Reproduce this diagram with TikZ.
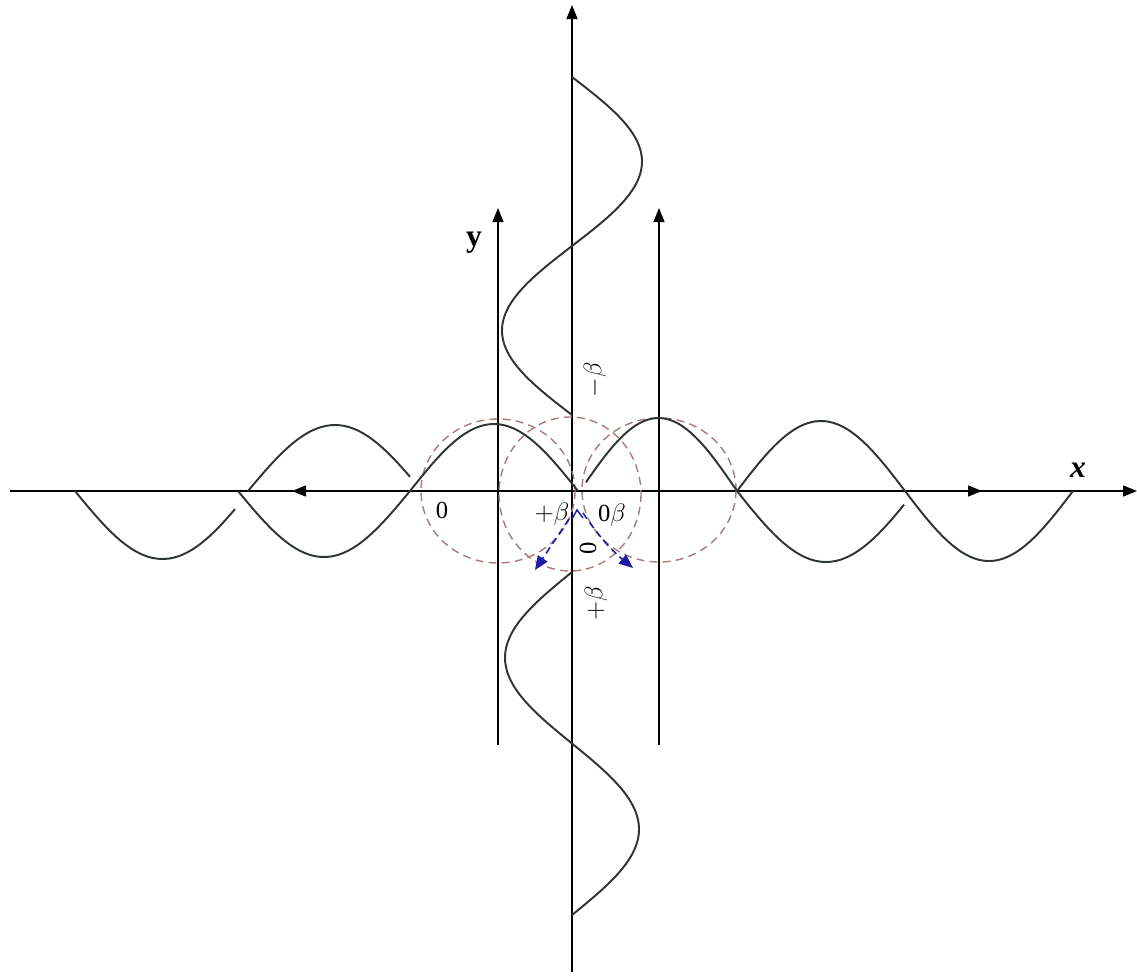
\documentclass[tikz,border=0pt]{standalone}
\usepackage{fontspec}
\setmainfont{Liberation Serif}
\usetikzlibrary{arrows.meta}
\definecolor{wavecol}{HTML}{2E3434}
\definecolor{circcol}{HTML}{A87A7A}
\definecolor{bluecol}{HTML}{1C1CA8}
\begin{document}
\begin{tikzpicture}[x=0.2mm,y=-0.2mm,
  axis/.style={line width=0.8pt,black},
  tip/.style={-{Triangle[length=2.8mm,width=2.2mm]}},
  wave/.style={line width=1.1pt,wavecol,smooth},
  circ/.style={line width=0.8pt,circcol,dash pattern=on 4.5pt off 3pt},
  barrow/.style={line width=0.9pt,bluecol,dash pattern=on 4pt off 2.5pt,-{Triangle[length=2.8mm,width=2.3mm]}},
  lbl/.style={font=\fontsize{14}{16}\selectfont,inner sep=0pt}]
\useasboundingbox (0,0) rectangle (1137,975);
% axes endpoints
\coordinate (xL) at (10,491);
\coordinate (xR) at (1137,491);
\coordinate (yB) at (572,972);
\coordinate (yT) at (572,5);
\coordinate (lB) at (498,745);
\coordinate (lT) at (498,208);
\coordinate (rB) at (659,745);
\coordinate (rT) at (659,208);
\coordinate (aL1) at (320,491);
\coordinate (aL2) at (292,491);
\coordinate (aR1) at (955,491);
\coordinate (aR2) at (982,491);
% axes
\draw[axis,tip] (xL) -- (xR);
\draw[axis,tip] (yB) -- (yT);
\draw[axis,tip] (lB) -- (lT);
\draw[axis,tip] (rB) -- (rT);
\draw[axis,tip] (aL1) -- (aL2);
\draw[axis,tip] (aR1) -- (aR2);
% dashed circles
\draw[circ] (498,491) ellipse [x radius=77,y radius=72];
\draw[circ] (570,494) ellipse [x radius=71,y radius=77];
\draw[circ] (659,490) ellipse [x radius=77,y radius=72];
% horizontal waves
\draw[wave] plot[domain=75:235,samples=40] (\x,{491+68*sin((\x-75)/175*180)});
\draw[wave] plot[domain=248:410,samples=40] (\x,{491-66*sin((\x-248)/174*180)});
\draw[wave] plot[domain=238:410,samples=40] (\x,{491+66*sin((\x-238)/172*180)});
\draw[wave] plot[domain=410:578,samples=40] (\x,{491-67*sin((\x-410)/168*180)});
\draw[wave] plot[domain=586:737,samples=40] (\x,{491-73*sin((\x-580)/157*180)});
\draw[wave] plot[domain=737:1073,samples=70] (\x,{491-70*sin((\x-737)/168*180)});
\draw[wave] plot[domain=737:904,samples=40] (\x,{491+71*sin((\x-737)/178*180)});
% vertical waves
\draw[wave] plot[domain=77:415,samples=70] ({572+70*sin((\x-77)/169*180)},\x);
\draw[wave] plot[domain=572:915,samples=70] ({572-67*sin((\x-572)/171.5*180)},\x);
% blue arrows
\coordinate (bS1) at (569,519);
\coordinate (bE1) at (535,570);
\coordinate (bS2) at (583,513);
\coordinate (bE2) at (633,568);
\draw[barrow] (bS1) -- (bE1);
\draw[barrow] (bS2) to[bend right=8] (bE2);
\draw[line width=0.8pt,bluecol] (572,519) -- (577,510) -- (583,518);
% labels
\node[font=\fontsize{18}{20}\selectfont\bfseries,inner sep=0pt] (ylab) at (474,243) {y};
\node[font=\fontsize{18}{20}\selectfont\bfseries\itshape,inner sep=0pt] (xlab) at (1078,470) {x};
\node[lbl] (z1) at (442,510) {0};
\node[lbl] (pb) at (552,514) {$+\beta$};
\node[lbl] (zb) at (612,515) {0$\beta$};
\node[lbl,rotate=90] (z2) at (588,548) {0};
\node[lbl,rotate=90] (pb2) at (596,603) {$+\beta$};
\node[lbl,rotate=90] (mb) at (595,380) {$-\beta$};
\end{tikzpicture}
\end{document}
